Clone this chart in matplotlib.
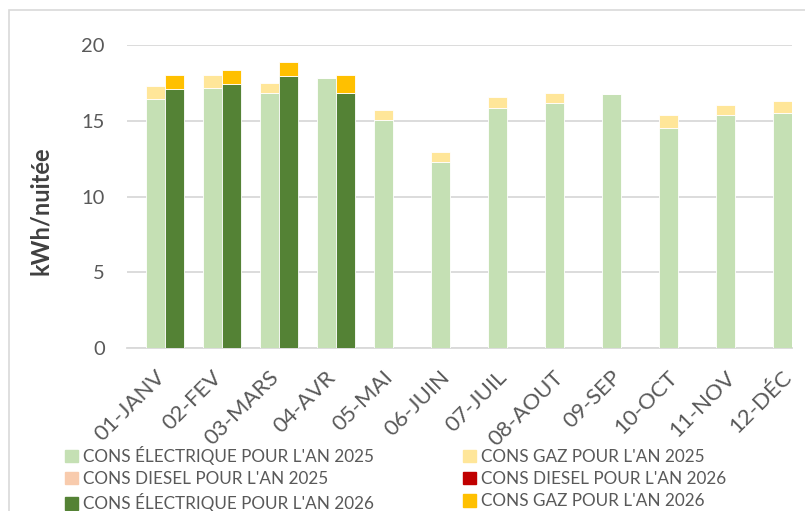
import matplotlib
matplotlib.use("Agg")
import matplotlib.pyplot as plt
from matplotlib.patches import Rectangle, Patch
from matplotlib.transforms import ScaledTranslation
import numpy as np

months = ["01-JANV", "02-FEV", "03-MARS", "04-AVR", "05-MAI", "06-JUIN",
          "07-JUIL", "08-AOUT", "09-SEP", "10-OCT", "11-NOV", "12-DÉC"]

elec_2025 = [16.43, 17.18, 16.85, 17.84, 15.10, 12.32, 15.86, 16.19, 16.79, 14.54, 15.40, 15.53]
gaz_2025 = [0.86, 0.90, 0.66, 0.0, 0.61, 0.62, 0.71, 0.64, 0.0, 0.86, 0.64, 0.82]
diesel_2025 = [0.0] * 12

elec_2026 = [17.10, 17.43, 17.97, 16.85, 0, 0, 0, 0, 0, 0, 0, 0]
gaz_2026 = [0.92, 0.94, 0.93, 1.17, 0, 0, 0, 0, 0, 0, 0, 0]
diesel_2026 = [0.0] * 12

yticks = [0, 5, 10, 15, 20]

C_E25 = "#C5E0B4"
C_G25 = "#FFE699"
C_D25 = "#F8CBAD"
C_E26 = "#548235"
C_G26 = "#FFC000"
C_D26 = "#C00000"
TXT = "#595959"
GRID = "#D9D9D9"

plt.rcParams["font.family"] = ["Lato", "DejaVu Sans"]

W, H = 805, 511
fig = plt.figure(figsize=(W / 100, H / 100), dpi=100)

# chart frame
fig.patches.append(Rectangle((9 / W, -0.05), 1.2, (H - 10) / H + 0.05,
                             transform=fig.transFigure, fill=False,
                             edgecolor=GRID, linewidth=1.2))

ax = fig.add_axes([127 / W, (H - 347.7) / H, (792 - 127) / W, (347.7 - 45.5) / H])

x = np.arange(len(months))
bw = 0.335
off = bw / 2

e25 = np.array(elec_2025); d25 = np.array(diesel_2025); g25 = np.array(gaz_2025)
e26 = np.array(elec_2026); d26 = np.array(diesel_2026); g26 = np.array(gaz_2026)

ax.bar(x - off, e25, bw, color=C_E25, edgecolor="white", linewidth=0.6, zorder=3)
ax.bar(x - off, d25, bw, bottom=e25, color=C_D25, linewidth=0, zorder=3)
ax.bar(x - off, g25, bw, bottom=e25 + d25, color=C_G25, edgecolor="white", linewidth=0.6, zorder=3)

ax.bar(x + off, e26, bw, color=C_E26, edgecolor="white", linewidth=0.6, zorder=3)
ax.bar(x + off, d26, bw, bottom=e26, color=C_D26, linewidth=0, zorder=3)
ax.bar(x + off, g26, bw, bottom=e26 + d26, color=C_G26, edgecolor="white", linewidth=0.6, zorder=3)

ax.set_xlim(-0.66, 11.0)
ax.set_ylim(0, 20)
ax.set_yticks(yticks)
ax.set_yticklabels([str(v) for v in yticks], fontsize=14.5, color=TXT)
ax.yaxis.grid(True, color=GRID, linewidth=1.3, zorder=0)
ax.set_axisbelow(True)
for s in ["top", "right", "left"]:
    ax.spines[s].set_visible(False)
ax.spines["bottom"].set_color(GRID)
ax.spines["bottom"].set_linewidth(1.3)
ax.tick_params(axis="y", length=0, pad=16)
ax.tick_params(axis="x", length=0, pad=19)

ax.set_xticks(x)
ax.set_xticklabels(months, rotation=45, ha="right", va="center",
                   rotation_mode="anchor", fontsize=16, color=TXT)
shift = ScaledTranslation(-3 / 100, 0, fig.dpi_scale_trans)
for lbl in ax.get_xticklabels():
    lbl.set_transform(lbl.get_transform() + shift)

ax.set_ylabel("kWh/nuitée", fontsize=17, fontweight="bold", color="#404040")
ax.yaxis.set_label_coords((52 - 127) / 665, (347.7 - 211) / 302.2)

handles = [
    Patch(color=C_E25, label="CONS ÉLECTRIQUE POUR L'AN 2025"),
    Patch(color=C_D25, label="CONS DIESEL POUR L'AN 2025"),
    Patch(color=C_E26, label="CONS ÉLECTRIQUE POUR L'AN 2026"),
    Patch(color=C_G25, label="CONS GAZ POUR L'AN 2025"),
    Patch(color=C_D26, label="CONS DIESEL POUR L'AN 2026"),
    Patch(color=C_G26, label="CONS GAZ POUR L'AN 2026"),
]
leg = fig.legend(handles=handles, ncol=2, loc="upper left",
                 bbox_to_anchor=(65 / W, (H - 446) / H), frameon=False,
                 fontsize=12.3, labelcolor=TXT, handlelength=0.75, handleheight=0.75,
                 handletextpad=0.3, columnspacing=5.2, labelspacing=0.36,
                 borderaxespad=0, borderpad=0)

fig.savefig("out.png", dpi=100)
